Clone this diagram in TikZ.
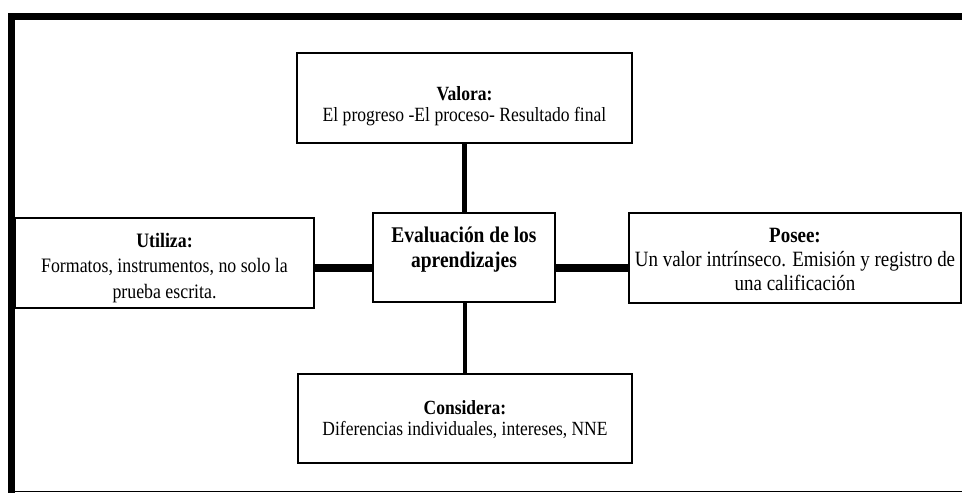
\documentclass[tikz,border=0pt]{standalone}
\usepackage{fontspec}
\setmainfont{Liberation Serif}[FakeStretch=0.87]
\begin{document}
\begin{tikzpicture}[x=1pt,y=-1pt,
  box/.style={draw=black, line width=2.6pt, fill=white, inner sep=0pt, outer sep=0pt,
    align=center, text=black},
  vbar/.style={draw=black, line width=4.5pt},
  hbar/.style={draw=black, line width=8.5pt},
  frameline/.style={draw=black, line width=7pt}]
\useasboundingbox (0,0) rectangle (962,493);
% outer frame (top and left thick, bottom thin)
\draw[frameline] (962,16.5) -- (11,16.5) -- (11,493);
\draw[black, line width=1.6pt] (8,491.5) -- (962,491.5);
% boxes
\node[box, minimum width=335pt, minimum height=90pt,
  font=\fontsize{20.2}{21}\selectfont] (valora) at (464.5,98)
  {\rule{0pt}{29.4pt}\textbf{Valora:}\\El progreso -El proceso- Resultado final};
\node[box, minimum width=182pt, minimum height=89pt,
  font=\fontsize{22.4}{25}\selectfont\bfseries] (centro) at (464,257.5)
  {Evaluación de los\\aprendizajes\rule[-19.7pt]{0pt}{19.7pt}};
\node[box, minimum width=299pt, minimum height=90pt,
  font=\fontsize{20.5}{25.5}\selectfont] (utiliza) at (164.5,263)
  {\rule{0pt}{23.4pt}\textbf{Utiliza:}\\Formatos, instrumentos, no solo la\\prueba escrita.};
\node[box, minimum width=332pt, minimum height=90pt,
  font=\fontsize{21.8}{24}\selectfont] (posee) at (795,258)
  {\rule{0pt}{18pt}\textbf{Posee:}\\Un valor intrínseco. Emisión y registro de\\una calificación};
\node[box, minimum width=334pt, minimum height=89pt,
  font=\fontsize{20.1}{21}\selectfont] (considera) at (465,418.5)
  {\rule{0pt}{16.7pt}\textbf{Considera:}\\Diferencias individuales, intereses, NNE};
% connectors
\coordinate (barlevel) at (464,268);
\draw[vbar] (valora.south) -- (valora.south |- centro.north);
\draw[vbar] (considera.north |- centro.south) -- (considera.north);
\draw[hbar] (utiliza.east |- barlevel) -- (centro.west |- barlevel);
\draw[hbar] (centro.east |- barlevel) -- (posee.west |- barlevel);
\end{tikzpicture}
\end{document}
